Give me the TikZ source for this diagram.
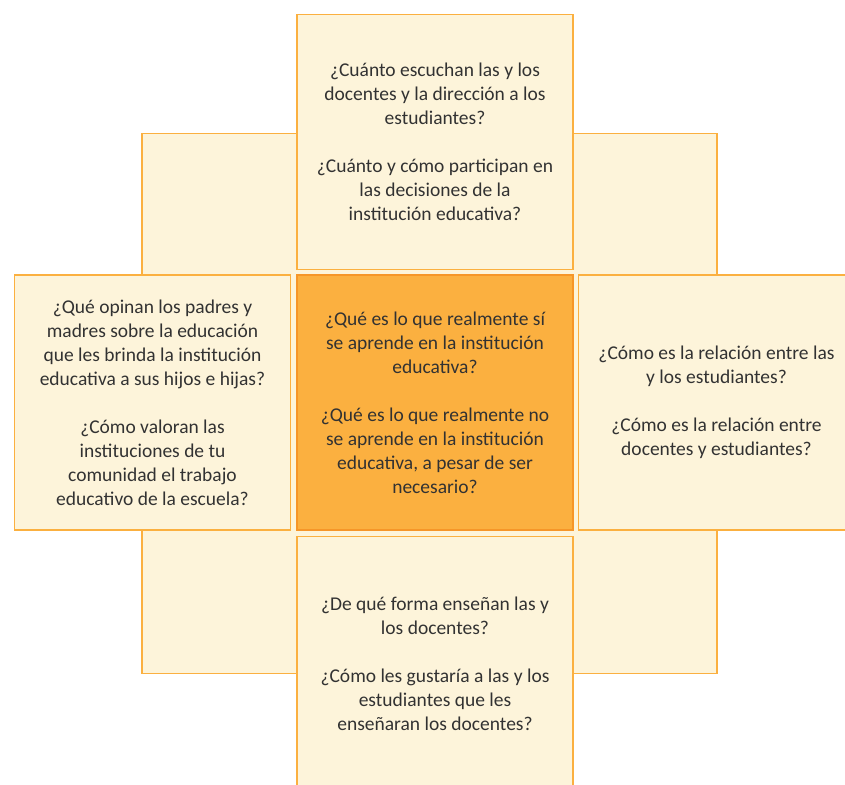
\documentclass[tikz,border=0pt]{standalone}
\usepackage{fontspec}
\setmainfont{Carlito}
\usetikzlibrary{positioning}
\definecolor{paleo}{RGB}{253,244,218}
\definecolor{lineo}{RGB}{251,176,64}
\definecolor{darko}{RGB}{246,150,40}
\definecolor{inko}{RGB}{50,50,50}

\begin{document}
\begin{tikzpicture}
[card/.style={shape=rectangle, draw=lineo, fill=paleo, line width=1.4pt, outer sep=0pt,
   inner sep=0pt, minimum width=276pt, minimum height=255pt, align=center, text=inko,
   font=\fontsize{19.5}{24}\selectfont},
   hub/.style={card, fill=lineo, draw=darko},
   backsq/.style={shape=rectangle, draw=lineo, fill=paleo, line width=1.4pt,
   minimum width=575pt, minimum height=540pt},
   x=1pt, y=1pt]
\useasboundingbox (0,0) rectangle (845,784);
\clip (0,0) rectangle (845,784);
\node[backsq] (Back) at (429.5, 380.7) {};
\node[hub] (Hub) at (435, 381.5) {¿Qué es lo que realmente sí\\ se aprende en la institución\\
  educativa?\\[24pt] ¿Qué es lo que realmente no\\ se aprende en la institución\\
  educativa, a pesar de ser\\ necesario?};
\node[card] (Top) [above=5.5pt of Hub] {¿Cuánto escuchan las y los\\ docentes y la dirección a los\\
  estudiantes?\\[24pt] ¿Cuánto y cómo participan en\\ las decisiones de la\\ institución educativa?};
\node[card] (Left) [left=6.5pt of Hub] {¿Qué opinan los padres y\\ madres sobre la educación\\
  que les brinda la institución\\ educativa a sus hijos e hijas?\\[24pt] ¿Cómo valoran las\\
  instituciones de tu\\ comunidad el trabajo\\ educativo de la escuela?};
\node[card] (Right) [right=5.5pt of Hub] {¿Cómo es la relación entre las\\ y los estudiantes?\\[24pt]
  ¿Cómo es la relación entre\\ docentes y estudiantes?};
\node[card] (Bottom) [below=6.5pt of Hub] {¿De qué forma enseñan las y\\ los docentes?\\[24pt]
  ¿Cómo les gustaría a las y los\\ estudiantes que les\\ enseñaran los docentes?};
\end{tikzpicture}
\end{document}
